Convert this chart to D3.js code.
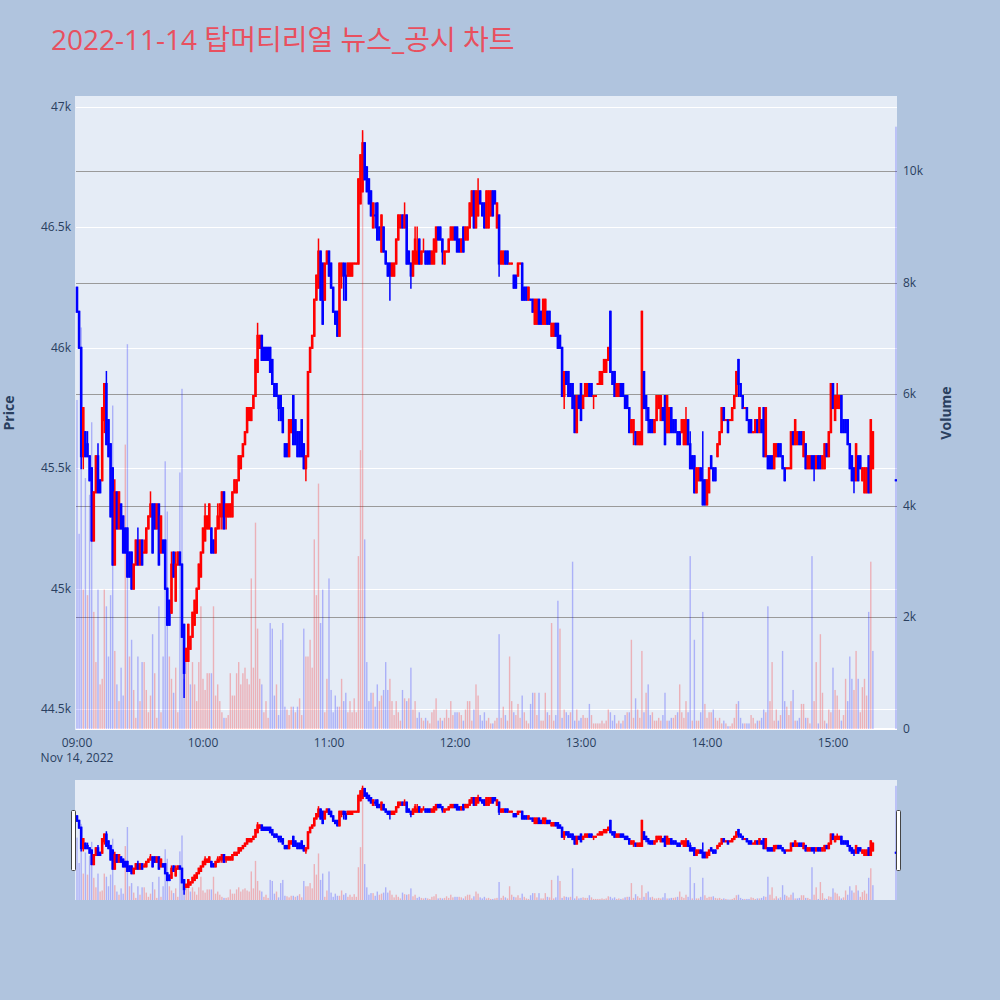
<!DOCTYPE html>
<html><head><meta charset="utf-8">
<script src="https://cdn.jsdelivr.net/npm/d3@7"></script>
<style>
body{margin:0;background:#b0c4de}
svg{display:block}
text{font-family:"Open Sans","Noto Sans CJK KR",sans-serif}
</style></head>
<body><svg id="chart" width="1000" height="1000"></svg>
<script>
const chartTitle = "2022-11-14 탑머티리얼 뉴스_공시 차트";
const tradeDate = "2022-11-14";
const sessionStart = "09:00";
// one-minute candles from 09:00 (index = minutes after open)
const opens = [
46250,46150,46000,45550,45650,45600,45550,45500,45200,45400,
45550,45450,45450,45700,45850,45700,45600,45500,45100,45400,
45250,45350,45300,45250,45250,45150,45150,45000,45100,45200,
45100,45200,45150,45150,45250,45300,45350,45350,45250,45350,
45150,45200,45200,45000,44950,44900,45150,44950,45100,45150,
45100,44850,44700,44700,44750,44800,44850,44900,45000,45050,
45150,45200,45250,45250,45250,45200,45150,45250,45300,45300,
45400,45300,45300,45300,45300,45400,45400,45450,45500,45550,
45600,45650,45700,45700,45750,45800,45900,46000,46050,46000,
46000,46000,46000,45950,45850,45850,45800,45800,45750,45600,
45600,45550,45650,45800,45700,45650,45650,45700,45600,45500,
45550,45900,46000,46050,46200,46250,46400,46350,46200,46350,
46400,46350,46250,46150,46150,46050,46300,46350,46300,46300,
46300,46300,46350,46350,46350,46600,46650,46850,46750,46700,
46650,46500,46550,46600,46500,46400,46500,46400,46350,46350,
46300,46300,46350,46450,46500,46550,46500,46550,46400,46350,
46300,46350,46350,46450,46350,46400,46400,46400,46400,46350,
46350,46400,46500,46500,46450,46350,46400,46400,46450,46450,
46500,46500,46450,46400,46500,46450,46450,46500,46550,46650,
46500,46550,46650,46600,46600,46500,46500,46550,46650,46650,
46500,46550,46350,46350,46400,46400,46350,46350,46300,46300,
46300,46350,46350,46250,46250,46200,46200,46200,46100,46100,
46200,46150,46100,46100,46150,46150,46050,46050,46100,46100,
46050,46000,45800,45900,45900,45850,45850,45800,45650,45800,
45850,45750,45800,45800,45850,45850,45800,45800,45850,45850,
45850,45900,45900,45950,46150,45900,45900,45800,45800,45850,
45850,45800,45800,45750,45650,45650,45650,45600,45600,45600,
45900,45800,45750,45700,45700,45650,45700,45750,45700,45750,
45800,45650,45650,45750,45700,45700,45650,45650,45650,45600,
45600,45700,45600,45550,45550,45400,45450,45500,45450,45450,
45350,45400,45550,45500,45500,45550,45600,45650,45750,45700,
45700,45700,45700,45750,45800,45950,45850,45800,45750,45750,
45700,45700,45650,45650,45700,45650,45700,45750,45550,45550,
45550,45550,45500,45550,45600,45600,45550,45500,45500,45500,
45500,45650,45600,45600,45650,45650,45550,45600,45500,45500,
45550,45550,45500,45550,45550,45500,45500,45600,45550,45650,
45850,45700,45750,45750,45800,45700,45700,45700,45600,45550,
45500,45450,45550,45550,45450,45400,45400,45550,45400,45500];
const highs = [
46250,46150,46000,45750,45650,45650,45550,45500,45400,45550,
45600,45450,45750,45850,45900,45700,45600,45500,45450,45400,
45400,45350,45300,45250,45250,45150,45150,45100,45200,45250,
45200,45200,45200,45250,45300,45400,45350,45350,45350,45350,
45300,45200,45200,45000,44950,45150,45150,45150,45150,45150,
45100,44850,44750,44850,44800,44900,44950,45000,45100,45150,
45250,45350,45300,45350,45250,45200,45250,45350,45350,45400,
45400,45350,45350,45350,45400,45450,45450,45550,45550,45600,
45650,45750,45750,45750,45800,45950,46100,46050,46050,46000,
46000,46000,46000,45950,45850,45850,45800,45800,45750,45600,
45600,45700,45700,45800,45700,45650,45650,45700,45600,45550,
45900,46000,46050,46200,46300,46450,46400,46350,46350,46400,
46400,46350,46250,46150,46150,46350,46350,46350,46350,46350,
46350,46350,46350,46350,46700,46800,46900,46850,46750,46700,
46650,46600,46600,46600,46500,46550,46500,46400,46350,46350,
46350,46350,46450,46550,46550,46550,46600,46550,46400,46350,
46400,46500,46500,46450,46400,46450,46400,46400,46400,46400,
46450,46500,46500,46500,46450,46400,46400,46450,46500,46500,
46500,46500,46450,46450,46500,46500,46500,46600,46650,46650,
46650,46700,46650,46600,46600,46650,46650,46650,46650,46650,
46600,46550,46400,46400,46400,46400,46350,46350,46300,46300,
46350,46350,46350,46250,46250,46250,46200,46200,46200,46200,
46200,46150,46200,46200,46150,46150,46100,46100,46100,46100,
46050,46000,45900,45900,45900,45850,45850,45800,45800,45800,
45850,45800,45850,45850,45850,45850,45800,45800,45850,45900,
45900,45950,45950,46000,46150,45900,45900,45850,45850,45850,
45850,45800,45800,45750,45700,45700,45650,45650,45650,46150,
45900,45800,45750,45700,45700,45700,45800,45800,45800,45750,
45800,45800,45750,45750,45700,45700,45650,45650,45700,45700,
45750,45700,45650,45550,45550,45500,45500,45500,45650,45450,
45450,45500,45550,45500,45500,45600,45650,45750,45750,45700,
45700,45700,45750,45800,45900,45950,45850,45800,45750,45750,
45700,45700,45650,45700,45700,45750,45700,45750,45750,45550,
45550,45550,45600,45600,45600,45600,45550,45500,45500,45500,
45650,45650,45700,45650,45650,45650,45650,45600,45550,45550,
45550,45550,45550,45550,45550,45550,45600,45600,45650,45850,
45850,45800,45850,45800,45800,45700,45700,45700,45600,45550,
45500,45600,45550,45550,45500,45500,45500,45550,45700,45650];
const lows = [
46150,46000,45500,45500,45550,45550,45450,45200,45200,45400,
45400,45400,45450,45650,45600,45550,45300,45100,45100,45250,
45250,45250,45150,45150,45050,45050,45000,45000,45100,45100,
45100,45100,45150,45150,45250,45300,45150,45250,45250,45100,
45150,45150,45000,44850,44850,44900,45050,44950,45100,45100,
44800,44550,44700,44700,44750,44800,44850,44900,45000,45050,
45150,45200,45250,45250,45150,45150,45150,45250,45250,45250,
45250,45250,45300,45300,45300,45400,45400,45450,45500,45550,
45600,45650,45700,45700,45750,45800,45900,46000,45950,45950,
45950,45950,45900,45850,45800,45800,45700,45700,45650,45550,
45550,45550,45650,45600,45600,45550,45550,45550,45500,45450,
45550,45900,46000,46050,46200,46250,46200,46100,46200,46350,
46300,46250,46150,46100,46050,46050,46250,46200,46200,46300,
46300,46300,46350,46350,46350,46600,46650,46700,46650,46600,
46550,46500,46500,46450,46450,46400,46400,46350,46300,46200,
46300,46300,46350,46450,46500,46500,46500,46350,46350,46250,
46300,46350,46350,46350,46350,46400,46350,46350,46350,46350,
46350,46400,46450,46450,46350,46350,46400,46400,46450,46450,
46450,46400,46400,46400,46400,46450,46450,46500,46550,46500,
46500,46550,46600,46550,46500,46500,46500,46550,46550,46600,
46500,46300,46350,46350,46350,46350,46350,46350,46250,46250,
46300,46350,46200,46200,46200,46200,46200,46150,46100,46100,
46100,46100,46100,46100,46100,46100,46050,46050,46050,46000,
46000,45800,45750,45850,45800,45800,45750,45650,45650,45750,
45700,45750,45800,45800,45800,45800,45750,45800,45850,45850,
45850,45900,45900,45950,45900,45850,45800,45800,45800,45800,
45800,45750,45750,45650,45650,45600,45600,45600,45600,45600,
45750,45700,45650,45650,45650,45650,45700,45750,45700,45700,
45600,45650,45650,45650,45650,45650,45600,45600,45650,45600,
45600,45600,45500,45500,45400,45400,45450,45450,45350,45350,
45350,45400,45500,45450,45450,45550,45600,45650,45700,45700,
45650,45700,45700,45750,45800,45800,45800,45750,45750,45700,
45650,45650,45650,45650,45650,45650,45650,45550,45550,45500,
45500,45500,45500,45550,45550,45550,45500,45450,45500,45500,
45500,45600,45600,45600,45600,45600,45550,45500,45500,45500,
45500,45450,45500,45500,45500,45500,45500,45550,45550,45650,
45750,45700,45750,45750,45650,45650,45650,45600,45500,45450,
45400,45450,45450,45500,45450,45400,45400,45400,45400,45500];
const closes = [
46150,46000,45550,45750,45550,45550,45450,45200,45400,45550,
45400,45400,45750,45850,45600,45550,45300,45100,45400,45250,
45400,45250,45150,45150,45050,45050,45000,45100,45200,45100,
45200,45100,45150,45250,45300,45350,45150,45250,45350,45100,
45300,45150,45000,44850,44850,45100,45050,45100,45150,45100,
44800,44650,44750,44850,44800,44900,44950,45000,45100,45150,
45250,45300,45300,45350,45150,45150,45250,45300,45350,45400,
45250,45350,45350,45350,45400,45450,45450,45550,45550,45600,
45650,45750,45750,45750,45800,45950,46050,46050,45950,45950,
45950,45950,45900,45850,45800,45800,45750,45700,45650,45550,
45550,45700,45700,45600,45600,45550,45550,45550,45500,45550,
45900,46000,46050,46200,46300,46400,46200,46100,46350,46400,
46300,46250,46150,46100,46050,46350,46350,46300,46200,46350,
46350,46350,46350,46350,46700,46800,46850,46700,46650,46600,
46550,46600,46550,46450,46450,46550,46400,46350,46300,46300,
46350,46350,46450,46550,46550,46500,46550,46350,46350,46300,
46400,46450,46400,46350,46400,46400,46350,46350,46350,46400,
46450,46500,46450,46450,46400,46400,46400,46450,46500,46500,
46450,46400,46400,46450,46400,46500,46500,46600,46650,46500,
46650,46650,46600,46550,46500,46650,46650,46650,46550,46600,
46600,46350,46400,46400,46350,46350,46350,46350,46250,46250,
46350,46350,46200,46200,46200,46250,46200,46150,46200,46200,
46100,46100,46200,46200,46100,46100,46100,46100,46050,46000,
46000,45800,45900,45850,45800,45800,45750,45650,45800,45750,
45700,45800,45850,45850,45800,45800,45800,45800,45850,45900,
45900,45950,45950,46000,45900,45850,45800,45850,45850,45800,
45800,45750,45750,45650,45700,45700,45600,45650,45650,46150,
45750,45750,45700,45650,45650,45700,45800,45800,45800,45700,
45600,45800,45750,45650,45650,45650,45600,45600,45700,45700,
45700,45600,45500,45500,45400,45500,45500,45450,45350,45350,
45450,45500,45500,45450,45450,45600,45650,45750,45700,45700,
45650,45700,45750,45800,45900,45850,45800,45750,45750,45700,
45650,45650,45650,45700,45650,45750,45650,45550,45750,45500,
45500,45500,45600,45600,45550,45550,45500,45450,45500,45500,
45650,45600,45700,45650,45600,45600,45650,45500,45550,45550,
45500,45500,45550,45500,45500,45550,45600,45550,45650,45850,
45750,45800,45800,45800,45650,45650,45650,45600,45500,45450,
45450,45600,45450,45500,45500,45500,45500,45400,45700,45650];
const volumes = [
5900,3500,7200,2500,4500,2400,4200,5500,2100,1200,
2500,800,900,2500,2200,1300,2400,5800,1400,800,
500,1100,600,5100,6900,1300,1600,700,200,1300,
500,1200,1200,700,300,600,1700,1000,200,2200,
300,1300,4800,3900,1300,900,650,1100,300,4600,
6100,900,1200,1200,800,1200,800,500,1200,2200,
900,700,1000,1000,1000,2200,600,800,500,300,
200,200,250,1000,600,600,1000,1200,800,1000,
1100,900,800,2700,1100,3700,1800,900,800,300,
500,200,1900,1800,600,800,250,1600,1900,400,
350,250,400,400,300,400,550,250,1800,1300,
1300,1600,1100,3400,2400,4400,1900,2500,300,900,
2700,700,300,600,400,400,900,500,650,300,
500,300,550,300,3100,5000,10700,3400,1200,500,
650,650,400,800,500,600,700,1200,700,900,
500,250,500,300,150,700,550,500,550,1100,
350,500,200,300,200,150,200,150,100,300,
350,550,150,200,150,200,350,200,500,250,
300,300,300,250,150,350,500,500,150,350,
800,600,250,150,300,150,200,100,100,150,
200,1700,200,400,250,150,1300,500,300,250,
450,200,600,300,150,100,450,650,650,250,
650,150,150,650,300,250,1900,150,250,2300,
1800,200,350,300,250,300,3000,150,350,150,
200,250,200,200,450,250,100,100,100,100,
150,100,150,350,300,150,250,100,150,100,
150,250,300,300,1600,200,550,350,200,1400,
300,650,800,250,300,150,150,200,150,250,
650,150,150,200,200,250,300,800,300,200,
500,300,3100,150,1600,150,150,300,2100,450,
200,300,300,350,200,150,200,100,150,100,
50,50,100,200,450,500,200,100,100,100,
100,250,200,100,150,150,200,350,300,2200,
500,1200,150,350,150,250,1400,500,400,250,
500,700,150,150,200,450,450,200,200,100,
3100,500,1200,100,1700,650,150,100,350,300,
1100,700,600,350,150,250,900,500,1300,900,
700,1400,900,300,750,900,600,2100,3000,1400];
// closing single-price auction
const closeAuctionTime = "15:30";
const closeAuctionOHLC = [45450, 45450, 45450, 45450];
const closeAuctionVolume = 10800;

const priceTicks = [44500, 45000, 45500, 46000, 46500, 47000];
const priceTickLabels = ["44.5k", "45k", "45.5k", "46k", "46.5k", "47k"];
const volumeTicks = [0, 2000, 4000, 6000, 8000, 10000];
const volumeTickLabels = ["0", "2k", "4k", "6k", "8k", "10k"];
const timeTicks = ["09:00", "10:00", "11:00", "12:00", "13:00", "14:00", "15:00"];
const dateLabel = "Nov 14, 2022";

// ---------- build records ----------
const parse = d3.timeParse("%Y-%m-%d %H:%M");
const t0 = parse(tradeDate + " " + sessionStart);
const n = Math.min(opens.length, highs.length, lows.length, closes.length, volumes.length);
const data = [];
for (let i = 0; i < n; i++) {
  data.push({t: d3.timeMinute.offset(t0, i), o: opens[i], h: highs[i], l: lows[i], c: closes[i], v: volumes[i]});
}
data.push({t: parse(tradeDate + " " + closeAuctionTime), o: closeAuctionOHLC[0], h: closeAuctionOHLC[1],
  l: closeAuctionOHLC[2], c: closeAuctionOHLC[3], v: closeAuctionVolume});
data.forEach((d, i) => {
  const ref = i === 0 ? d.o : data[i - 1].c;
  d.up = d.c > d.o || (d.c === d.o && d.c >= ref);
  d.vup = d.c >= ref;
});

const RED = "#ff0000", BLUE = "#0000ff";
const svg = d3.select("#chart");
const W = 1000, H = 1000;
const L = 75, R = 897, T = 96, B = 730;
const ST = 780, SB = 900;

const x = d3.scaleTime()
  .domain([d3.timeSecond.offset(t0, -57), d3.timeSecond.offset(t0, 23429)])
  .range([L, R]);
const yP = d3.scaleLinear().domain([44413, 47046]).range([B, T]);
const yV = d3.scaleLinear().domain([0, 11350]).range([B - 1, T]);
const yPs = d3.scaleLinear().domain([44413, 47046]).range([SB, ST]);
const yVs = d3.scaleLinear().domain([0, 11350]).range([SB, ST]);

svg.append("rect").attr("width", W).attr("height", H).attr("fill", "#b0c4de");

// title
svg.append("text").attr("x", 51).attr("y", 50).attr("font-size", 28)
  .attr("fill", "#e8505f").text(chartTitle);

// main plot background
svg.append("rect").attr("x", L).attr("y", T).attr("width", R - L).attr("height", B - T).attr("fill", "#e5ecf6");

const defs = svg.append("defs");
defs.append("clipPath").attr("id", "clipMain").append("rect").attr("x", L).attr("y", T).attr("width", R - L).attr("height", B - T);
defs.append("clipPath").attr("id", "clipSlider").append("rect").attr("x", L).attr("y", ST).attr("width", R - L).attr("height", SB - ST);

// gridlines
const grid = svg.append("g");
grid.selectAll(".pg").data(priceTicks).join("line")
  .attr("x1", L + 1).attr("x2", R).attr("y1", d => Math.round(yP(d)) + 0.5).attr("y2", d => Math.round(yP(d)) + 0.5)
  .attr("stroke", "#ffffff").attr("stroke-width", 1);
grid.selectAll(".vg").data(volumeTicks.filter(v => v > 0)).join("line")
  .attr("x1", L + 1).attr("x2", R).attr("y1", d => Math.round(yV(d)) + 0.5).attr("y2", d => Math.round(yV(d)) + 0.5)
  .attr("stroke", "#9a9a9a").attr("stroke-width", 1);
grid.append("line").attr("x1", L + 1).attr("x2", R).attr("y1", yV(0)).attr("y2", yV(0))
  .attr("stroke", "#ffffff").attr("stroke-width", 2);

function drawPanel(g, ys, yv) {
  const barW = 1.4;
  g.append("g").selectAll("rect").data(data).join("rect")
    .attr("x", d => x(d.t) - barW / 2).attr("width", barW)
    .attr("y", d => yv(d.v)).attr("height", d => Math.max(0, yv(0) - yv(d.v)))
    .attr("fill", d => d.vup ? RED : BLUE).attr("fill-opacity", 0.25);
  const cg = g.append("g");
  cg.selectAll("line").data(data).join("line")
    .attr("x1", d => x(d.t)).attr("x2", d => x(d.t))
    .attr("y1", d => ys(d.h) - 1).attr("y2", d => ys(d.l) + 1)
    .attr("stroke", d => d.up ? RED : BLUE).attr("stroke-width", 1.5);
  cg.selectAll("rect").data(data).join("rect")
    .attr("x", d => x(d.t) - 1.3).attr("width", 2.6)
    .attr("y", d => ys(Math.max(d.o, d.c)) - 1)
    .attr("height", d => Math.abs(ys(d.o) - ys(d.c)) + 2)
    .attr("fill", d => d.up ? RED : BLUE);
}

drawPanel(svg.append("g").attr("clip-path", "url(#clipMain)"), yP, yV);

// axes labels
const axisColor = "#2a3f5f";
svg.append("g").selectAll("text").data(priceTicks).join("text")
  .attr("x", 71).attr("y", d => yP(d) + 4).attr("text-anchor", "end")
  .attr("font-size", 12).attr("fill", axisColor).text((d, i) => priceTickLabels[i]);
svg.append("g").selectAll("text").data(volumeTicks).join("text")
  .attr("x", 903).attr("y", d => yV(d) + 4).attr("text-anchor", "start")
  .attr("font-size", 12).attr("fill", axisColor).text((d, i) => volumeTickLabels[i]);
svg.append("g").selectAll("text").data(timeTicks).join("text")
  .attr("x", d => x(parse(tradeDate + " " + d))).attr("y", 747).attr("text-anchor", "middle")
  .attr("font-size", 12).attr("fill", axisColor).text(d => d);
svg.append("text").attr("x", x(t0)).attr("y", 762).attr("text-anchor", "middle")
  .attr("font-size", 12).attr("fill", axisColor).text(dateLabel);

svg.append("text").attr("transform", `translate(14,${(T + B) / 2}) rotate(-90)`)
  .attr("text-anchor", "middle").attr("font-size", 14).attr("font-weight", "bold")
  .attr("fill", axisColor).text("Price");
svg.append("text").attr("transform", `translate(951,${(T + B) / 2}) rotate(-90)`)
  .attr("text-anchor", "middle").attr("font-size", 14).attr("font-weight", "bold")
  .attr("fill", axisColor).text("Volume");

// range slider
svg.append("rect").attr("x", L).attr("y", ST).attr("width", R - L).attr("height", SB - ST).attr("fill", "#e5ecf6");
drawPanel(svg.append("g").attr("clip-path", "url(#clipSlider)"), yPs, yVs);
[L - 1.5, R + 1.5].forEach(hx => {
  svg.append("rect").attr("x", hx - 2).attr("y", 810.5).attr("width", 4).attr("height", 60)
    .attr("fill", "#ffffff").attr("stroke", "#444").attr("stroke-width", 1).attr("rx", 1);
});
</script>
</body></html>
